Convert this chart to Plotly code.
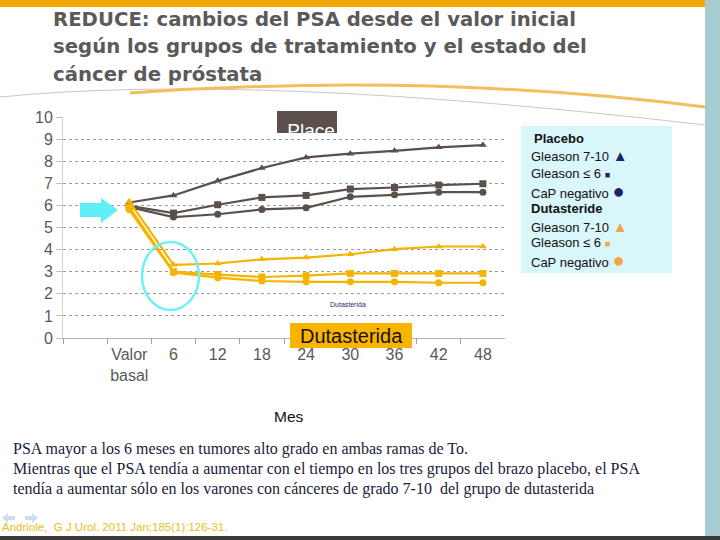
import plotly.graph_objects as go

W, H = 720, 540

# ---------------- data ----------------
categories = [" ", "Valor<br>basal", "6", "12", "18", "24", "30", "36", "42", "48"]
months = categories[1:]

placebo_g7_10 = [6.13, 6.45, 7.11, 7.69, 8.17, 8.34, 8.47, 8.63, 8.73]
placebo_g6 = [5.98, 5.65, 6.03, 6.36, 6.45, 6.74, 6.81, 6.92, 6.98]
placebo_neg = [5.92, 5.47, 5.60, 5.82, 5.89, 6.39, 6.48, 6.60, 6.60]
dut_g7_10 = [6.18, 3.31, 3.37, 3.56, 3.64, 3.79, 4.02, 4.14, 4.14]
dut_g6 = [5.92, 3.00, 2.87, 2.76, 2.82, 2.92, 2.92, 2.92, 2.92]
dut_neg = [5.80, 2.96, 2.73, 2.58, 2.54, 2.54, 2.54, 2.50, 2.50]

y_ticks = list(range(0, 11))

PLAC = "#5a504c"
DUT = "#f5b400"


def px(x):
    return x / W


def py(y):
    return 1 - y / H


fig = go.Figure()

series = [
    (placebo_g7_10, PLAC, "triangle-up", 7),
    (placebo_g6, PLAC, "square", 7),
    (placebo_neg, PLAC, "circle", 7),
    (dut_g7_10, DUT, "triangle-up", 7),
    (dut_g6, DUT, "square", 7),
    (dut_neg, DUT, "circle", 7),
]
for vals, col, sym, sz in series:
    fig.add_trace(go.Scatter(
        x=months, y=vals, mode="lines+markers",
        line=dict(color=col, width=2.2),
        marker=dict(color=col, symbol=sym, size=sz),
        showlegend=False, hoverinfo="skip",
    ))

fig.update_layout(
    width=W, height=H,
    margin=dict(l=0, r=0, t=0, b=0, pad=0, autoexpand=False),
    paper_bgcolor="white", plot_bgcolor="white",
    font=dict(family="Liberation Sans, Arial, sans-serif", color="#595959"),
    xaxis=dict(
        domain=[px(63), px(505)],
        type="category", categoryorder="array", categoryarray=categories,
        range=[-0.5, 9.5], tickson="boundaries",
        ticks="outside", ticklen=5, tickcolor="#a0a0a0",
        showline=True, linecolor="#b0b0b0", linewidth=1,
        showgrid=False, zeroline=False, tickangle=0, automargin=False,
        ticklabelstandoff=2,
        tickfont=dict(size=16, color="#595959"),
    ),
    yaxis=dict(
        domain=[py(338), py(117)],
        range=[0, 10], tickvals=y_ticks,
        ticks="outside", ticklen=6, tickcolor="#c0c0c0",
        showline=True, linecolor="#d0d0d0", linewidth=1,
        showgrid=True, gridcolor="#9a9a9a", griddash="dot", gridwidth=1,
        zeroline=False, automargin=False,
        tickfont=dict(size=16, color="#595959"),
    ),
)

shapes = []
ann = []

# top orange band, right band, bottom border
shapes.append(dict(type="rect", xref="paper", yref="paper",
                   x0=0, x1=px(705), y0=py(7), y1=py(0),
                   fillcolor="#f0a800", line=dict(width=0), layer="below"))
shapes.append(dict(type="rect", xref="paper", yref="paper",
                   x0=px(705), x1=1, y0=0, y1=1,
                   fillcolor="#a6ccd1", line=dict(width=0), layer="below"))
shapes.append(dict(type="rect", xref="paper", yref="paper",
                   x0=0, x1=1, y0=0, y1=py(536),
                   fillcolor="#3a3a3a", line=dict(width=0), layer="below"))


def path(points_cmd):
    out = []
    for item in points_cmd:
        if isinstance(item, str):
            out.append(item)
        else:
            out.append(f"{px(item[0]):.5f},{py(item[1]):.5f}")
    return " ".join(out)


# decorative swooshes
shapes.append(dict(type="path", xref="paper", yref="paper",
                   path=path(["M", (0, 97), "Q", (250, 72), (705, 125)]),
                   line=dict(color="#c8c8c8", width=1), layer="below"))
shapes.append(dict(type="path", xref="paper", yref="paper",
                   path=path(["M", (130, 93), "Q", (430, 72), (705, 107)]),
                   line=dict(color="#f4be5c", width=3), layer="below"))

# faint navigation arrows bottom-left (drawn as shapes)
shapes.append(dict(type="path", xref="paper", yref="paper",
                   path=path(["M", (2, 518), "L", (8, 513), "L", (8, 516), "L", (15, 516),
                              "L", (15, 520), "L", (8, 520), "L", (8, 523), "Z"]),
                   fillcolor="#cddcf0", line=dict(width=0), layer="below"))
shapes.append(dict(type="path", xref="paper", yref="paper",
                   path=path(["M", (38, 518), "L", (32, 513), "L", (32, 516), "L", (25, 516),
                              "L", (25, 520), "L", (32, 520), "L", (32, 523), "Z"]),
                   fillcolor="#cddcf0", line=dict(width=0), layer="below"))

# "Place" box (text clipped at the bottom of the box)
shapes.append(dict(type="rect", xref="paper", yref="paper",
                   x0=px(277), x1=px(337), y0=py(133), y1=py(111),
                   fillcolor="#5b504b", line=dict(width=0)))
ann.append(dict(x=px(311), y=py(126.5), xref="paper", yref="paper",
                text="Place", showarrow=False, xanchor="center", yanchor="middle",
                width=56, height=13, valign="top", borderpad=0, borderwidth=0,
                font=dict(size=19, color="white")))

# "Dutasterida" box
shapes.append(dict(type="rect", xref="paper", yref="paper",
                   x0=px(290), x1=px(412), y0=py(348), y1=py(323),
                   fillcolor="#f7b500", line=dict(width=0)))
ann.append(dict(x=px(351), y=py(335.5), xref="paper", yref="paper",
                text="Dutasterida", showarrow=False, xanchor="center", yanchor="middle",
                font=dict(size=20, color="#1a1000")))
ann.append(dict(x=px(348), y=py(304), xref="paper", yref="paper",
                text="Dutasterida", showarrow=False, xanchor="center", yanchor="middle",
                font=dict(size=7, color="#2a2a70")))

# cyan arrow
shapes.append(dict(type="path", xref="paper", yref="paper",
                   path=path(["M", (80, 203), "L", (101, 203), "L", (101, 198),
                              "L", (118, 210), "L", (101, 223), "L", (101, 217),
                              "L", (80, 217), "Z"]),
                   fillcolor="#5ef0f6", line=dict(width=0)))
# cyan ellipse
shapes.append(dict(type="circle", xref="paper", yref="paper",
                   x0=px(142), x1=px(199), y0=py(310), y1=py(242),
                   line=dict(color="#6ff0f6", width=2.5)))

# legend box
shapes.append(dict(type="rect", xref="paper", yref="paper",
                   x0=px(521), x1=px(672), y0=py(273), y1=py(126),
                   fillcolor="#d9f6fa", line=dict(width=0)))
NAVY = "#1c2466"
ORNG = "#f5a447"
legend_rows = [
    ("<b>Placebo</b>", 138, 532),
    (f"Gleason 7-10 <span style='color:{NAVY};font-size:15px'>▲</span>", 156, 529),
    (f"Gleason ≤ 6 <span style='color:{NAVY};font-size:9px'>■</span>", 174, 529),
    (f"CaP negativo <span style='color:{NAVY};font-size:20px'>●</span>", 191, 529),
    ("<b>Dutasteride</b>", 208, 529),
    (f"Gleason 7-10 <span style='color:{ORNG};font-size:15px'>▲</span>", 226, 529),
    (f"Gleason ≤ 6 <span style='color:{ORNG};font-size:9px'>■</span>", 243, 529),
    (f"CaP negativo <span style='color:{ORNG};font-size:20px'>●</span>", 260, 529),
]
for txt, yy, xx in legend_rows:
    ann.append(dict(x=px(xx), y=py(yy), xref="paper", yref="paper",
                    text=txt, showarrow=False, xanchor="left", yanchor="middle",
                    font=dict(size=13, color="#111111")))

# title
title_lines = [
    "REDUCE: cambios del PSA desde el valor inicial",
    "según los grupos de tratamiento y el estado del",
    "cáncer de próstata",
]
for i, t in enumerate(title_lines):
    ann.append(dict(x=px(51), y=py(20 + i * 27), xref="paper", yref="paper",
                    text=f"<b>{t}</b>", showarrow=False, xanchor="left", yanchor="middle",
                    font=dict(size=19.7, color="#5a5a5a",
                              family="DejaVu Sans, Liberation Sans, Arial")))

# axis title
ann.append(dict(x=px(289), y=py(416), xref="paper", yref="paper",
                text="Mes", showarrow=False, xanchor="center", yanchor="middle",
                font=dict(size=15.5, color="#111111")))

# bottom notes
notes = [
    "PSA mayor a los 6 meses en tumores alto grado en ambas ramas de To.",
    "Mientras que el PSA tendía a aumentar con el tiempo en los tres grupos del brazo placebo, el PSA",
    "tendía a aumentar sólo en los varones con cánceres de grado 7-10  del grupo de dutasterida",
]
for i, t in enumerate(notes):
    ann.append(dict(x=px(11), y=py(449 + i * 20), xref="paper", yref="paper",
                    text=t, showarrow=False, xanchor="left", yanchor="middle",
                    font=dict(size=16, color="#1a1a3a",
                              family="Liberation Serif, Times New Roman, serif")))

ann.append(dict(x=px(0), y=py(527), xref="paper", yref="paper",
                text="Andriole,  G J Urol. 2011 Jan;185(1):126-31.", showarrow=False,
                xanchor="left", yanchor="middle",
                font=dict(size=11.5, color="#e6c020")))

fig.update_layout(shapes=shapes, annotations=ann)
fig.write_html(
    "out.html",
    config={"displayModeBar": False},
    post_script="document.body.style.margin='0';document.body.style.overflow='hidden';",
)
